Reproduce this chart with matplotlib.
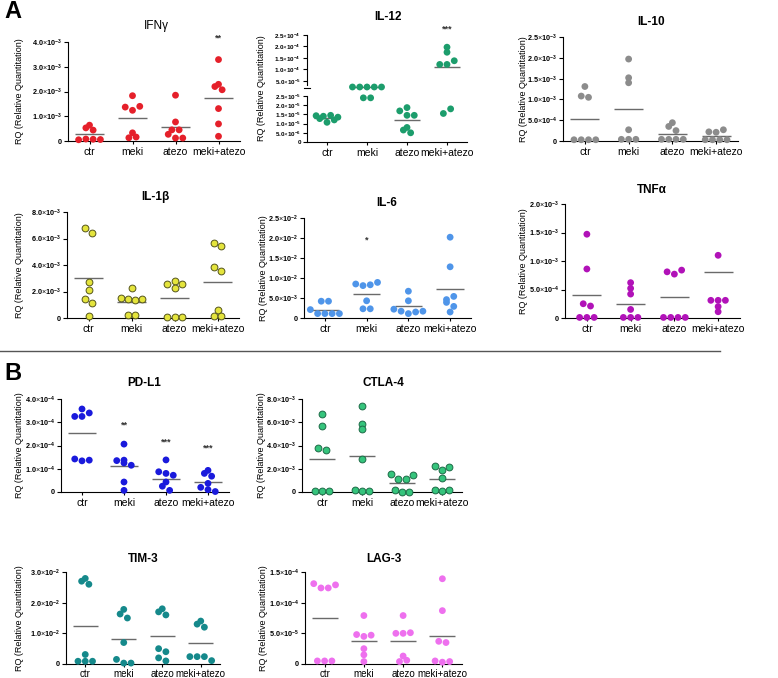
import numpy as np
import matplotlib
matplotlib.use("Agg")
import matplotlib.pyplot as plt
from matplotlib.transforms import blended_transform_factory

plt.rcParams['font.family'] = ['Liberation Sans', 'DejaVu Sans']
plt.rcParams['mathtext.fontset'] = 'custom'
plt.rcParams['mathtext.rm'] = 'Liberation Sans'
plt.rcParams['mathtext.bf'] = 'Liberation Sans:bold'

categories = ["ctr", "meki", "atezo", "meki+atezo"]

# ---- data ----
ifng = [[0.05e-3, 0.08e-3, 0.53e-3, 0.44e-3, 0.64e-3, 0.07e-3, 0.06e-3],
        [1.83e-3, 1.37e-3, 1.24e-3, 1.40e-3, 0.33e-3, 0.13e-3, 0.16e-3],
        [1.85e-3, 0.77e-3, 0.45e-3, 0.45e-3, 0.27e-3, 0.12e-3, 0.12e-3],
        [3.29e-3, 2.20e-3, 2.07e-3, 2.29e-3, 1.31e-3, 0.69e-3, 0.19e-3]]
ifng_mean = [0.27e-3, 0.92e-3, 0.57e-3, 1.72e-3]

il12 = [[1.27e-5, 1.43e-5, 1.40e-5, 1.07e-5, 1.20e-5, 1.45e-5, 1.35e-5],
        [4.0e-5, 4.0e-5, 4.0e-5, 4.0e-5, 4.0e-5, 2.4e-5, 2.4e-5],
        [1.87e-5, 1.69e-5, 1.45e-5, 1.45e-5, 0.79e-5, 0.65e-5, 0.50e-5],
        [1.97e-4, 1.75e-4, 1.22e-4, 1.22e-4, 1.38e-4, 1.55e-5, 1.80e-5]]
il12_mean = [1.30e-5, 4.0e-5, 1.20e-5, 1.12e-4]

il10 = [[1.31e-3, 1.08e-3, 1.05e-3, 0.03e-3, 0.03e-3, 0.03e-3, 0.03e-3],
        [1.97e-3, 1.52e-3, 1.40e-3, 0.27e-3, 0.04e-3, 0.04e-3, 0.04e-3],
        [0.44e-3, 0.35e-3, 0.25e-3, 0.04e-3, 0.04e-3, 0.04e-3, 0.04e-3],
        [0.22e-3, 0.21e-3, 0.27e-3, 0.03e-3, 0.03e-3, 0.03e-3, 0.03e-3]]
il10_mean = [0.52e-3, 0.77e-3, 0.18e-3, 0.11e-3]

il1b = [[6.80e-3, 6.45e-3, 2.75e-3, 2.08e-3, 1.43e-3, 1.13e-3, 0.13e-3],
        [2.30e-3, 1.48e-3, 1.43e-3, 1.38e-3, 1.43e-3, 0.25e-3, 0.25e-3],
        [2.83e-3, 2.55e-3, 2.25e-3, 2.55e-3, 0.08e-3, 0.08e-3, 0.08e-3],
        [5.63e-3, 5.43e-3, 3.83e-3, 3.55e-3, 0.58e-3, 0.18e-3, 0.18e-3]]
il1b_mean = [3.0e-3, 1.2e-3, 1.5e-3, 2.75e-3]

il6 = [[0.21e-2, 0.42e-2, 0.42e-2, 0.11e-2, 0.11e-2, 0.11e-2, 0.11e-2],
       [0.85e-2, 0.81e-2, 0.83e-2, 0.89e-2, 0.43e-2, 0.23e-2, 0.23e-2],
       [0.67e-2, 0.43e-2, 0.22e-2, 0.17e-2, 0.11e-2, 0.15e-2, 0.17e-2],
       [2.02e-2, 1.28e-2, 0.46e-2, 0.54e-2, 0.39e-2, 0.29e-2, 0.15e-2]]
il6_mean = [0.21e-2, 0.61e-2, 0.29e-2, 0.73e-2]

tnfa = [[1.47e-3, 0.86e-3, 0.25e-3, 0.21e-3, 0.01e-3, 0.01e-3, 0.01e-3],
        [0.62e-3, 0.52e-3, 0.42e-3, 0.15e-3, 0.01e-3, 0.01e-3, 0.01e-3],
        [0.81e-3, 0.77e-3, 0.84e-3, 0.01e-3, 0.01e-3, 0.01e-3, 0.01e-3],
        [1.10e-3, 0.31e-3, 0.31e-3, 0.31e-3, 0.20e-3, 0.11e-3]]
tnfa_mean = [0.41e-3, 0.25e-3, 0.36e-3, 0.80e-3]

pdl1 = [[3.57e-4, 3.25e-4, 3.25e-4, 3.40e-4, 1.42e-4, 1.34e-4, 1.37e-4],
        [2.06e-4, 1.37e-4, 1.35e-4, 1.25e-4, 1.15e-4, 0.43e-4, 0.07e-4],
        [1.38e-4, 0.87e-4, 0.80e-4, 0.72e-4, 0.43e-4, 0.25e-4, 0.07e-4],
        [0.93e-4, 0.80e-4, 0.68e-4, 0.37e-4, 0.20e-4, 0.10e-4, 0.02e-4]]
pdl1_mean = [2.52e-4, 1.11e-4, 0.58e-4, 0.42e-4]

ctla4 = [[6.7e-3, 5.7e-3, 3.75e-3, 3.65e-3, 0.05e-3, 0.05e-3, 0.05e-3],
         [7.4e-3, 5.85e-3, 5.4e-3, 2.8e-3, 0.14e-3, 0.05e-3, 0.05e-3],
         [1.52e-3, 1.15e-3, 1.15e-3, 1.50e-3, 0.14e-3, 0.0, 0.0],
         [2.20e-3, 1.92e-3, 2.15e-3, 1.17e-3, 0.14e-3, 0.06e-3, 0.14e-3]]
ctla4_mean = [2.85e-3, 3.1e-3, 0.77e-3, 1.14e-3]

tim3 = [[2.79e-2, 2.70e-2, 2.60e-2, 0.31e-2, 0.09e-2, 0.09e-2, 0.09e-2],
        [1.78e-2, 1.63e-2, 1.50e-2, 0.70e-2, 0.15e-2, 0.03e-2, 0.03e-2],
        [1.80e-2, 1.70e-2, 1.60e-2, 0.50e-2, 0.40e-2, 0.20e-2, 0.10e-2],
        [1.40e-2, 1.30e-2, 1.20e-2, 0.24e-2, 0.24e-2, 0.24e-2, 0.11e-2]]
tim3_mean = [1.24e-2, 0.82e-2, 0.92e-2, 0.67e-2]

lag3 = [[1.31e-4, 1.24e-4, 1.24e-4, 1.29e-4, 0.05e-4, 0.05e-4, 0.05e-4],
        [0.79e-4, 0.48e-4, 0.45e-4, 0.47e-4, 0.25e-4, 0.15e-4, 0.04e-4],
        [0.79e-4, 0.50e-4, 0.50e-4, 0.51e-4, 0.13e-4, 0.04e-4, 0.06e-4],
        [1.39e-4, 0.87e-4, 0.37e-4, 0.35e-4, 0.05e-4, 0.03e-4, 0.04e-4]]
lag3_mean = [0.75e-4, 0.38e-4, 0.37e-4, 0.45e-4]

# significance stars: (category index, level, text)
ifng_stars = [(3, 4.15e-3, "**")]
il12_stars = [(3, 2.75e-4, "***")]
il6_stars = [(1, 1.95e-2, "*")]
pdl1_stars = [(1, 2.88e-4, "**"), (2, 2.15e-4, "***"), (3, 1.90e-4, "***")]

W, H = 778, 678
fig = plt.figure(figsize=(W / 100, H / 100), dpi=100)


def rect(x0, x1, ytop, ybot):
    return [x0 / W, 1 - ybot / H, (x1 - x0) / W, (ybot - ytop) / H]


def fmt(v):
    if v == 0:
        return "0"
    e = int(np.floor(np.log10(abs(v)) + 1e-9))
    m = v / 10 ** e
    return r"%.1f$\times$10$^{\mathbf{%d}}$" % (m, e)


def swarm(ax, xc, vals, diam_px):
    vals = np.asarray(vals, float)
    p0 = ax.transData.transform((0, 0))
    p1 = ax.transData.transform((1, 0))
    ppu = p1[0] - p0[0]
    ys = ax.transData.transform(np.column_stack([np.full(len(vals), xc), vals]))[:, 1]
    order = np.argsort(ys)
    xs = np.zeros(len(vals))
    rows = []
    cur = []
    for i in order:
        if cur and ys[i] - ys[cur[0]] > 0.75 * diam_px:
            rows.append(cur)
            cur = []
        cur.append(i)
    if cur:
        rows.append(cur)
    for r in rows:
        n = len(r)
        r_sorted = sorted(r)
        for k, i in enumerate(r_sorted):
            xs[i] = xc + (k - (n - 1) / 2) * diam_px * 1.1 / ppu
    return xs


def panel(rc, data, means, ylim, ticks, color, edge=None, title="", tpos=None,
          tweight="bold", stars=(), ylabel_x=None, scale=None, tick_fs=5.2,
          xpad=2.0, xfs=7.5):
    ax = fig.add_axes(rc)
    ax.set_xlim(-0.5, 3.5)
    if scale is not None:
        ax.set_yscale('function', functions=scale)
    ax.set_ylim(*ylim)
    ax.set_yticks(ticks)
    ax.set_yticklabels([fmt(t) for t in ticks], fontsize=tick_fs, fontweight='bold')
    ax.set_xticks(range(4))
    ax.set_xticklabels(categories, fontsize=xfs)
    ax.tick_params(axis='y', length=3, width=0.8, pad=1.5)
    ax.tick_params(axis='x', length=2.5, width=0.8, pad=xpad)
    for s in ['top', 'right']:
        ax.spines[s].set_visible(False)
    for s in ['left', 'bottom']:
        ax.spines[s].set_linewidth(0.8)
    ax.patch.set_alpha(0)
    for i, vals in enumerate(data):
        xs = swarm(ax, i, vals, 6.6)
        ax.scatter(xs, vals, s=24, color=color, edgecolors=edge if edge else 'none',
                   linewidths=0.7 if edge else 0, zorder=3, clip_on=False)
        ax.plot([i - 0.33, i + 0.33], [means[i], means[i]], color='#6a6a6a', lw=1.0,
                zorder=2, solid_capstyle='butt')
    for (i, lev, txt) in stars:
        ax.text(i, lev, txt, ha='center', va='center', fontsize=6.5, fontweight='bold',
                color='#333333', clip_on=False)
    bb = ax.get_position()
    if ylabel_x is not None:
        fig.text(ylabel_x / W, bb.y0 + bb.height / 2, "RQ (Relative Quantitation)",
                 rotation=90, ha='center', va='center', fontsize=6.5)
    if tpos is not None:
        fig.text(tpos[0] / W, 1 - tpos[1] / H, title, ha='center', va='center',
                 fontsize=8.5, fontweight=tweight)
    return ax


# ---- Panel A row 1 ----
panel(rect(68, 240, 42, 141), ifng, ifng_mean, (0, 4e-3), [0, 1e-3, 2e-3, 3e-3, 4e-3],
      '#e5202a', title="IFNγ", tpos=(156, 26), tweight='normal', stars=ifng_stars, ylabel_x=20)

# IL-12 with broken axis (piecewise-linear scale)
xp = np.array([-2.5e-5, 0, 2.5e-5, 5e-5, 2.5e-4, 4.5e-4])
fp = np.array([-46, 0, 46, 61, 107, 153], float)
il12_scale = (lambda v: np.interp(v, xp, fp), lambda p: np.interp(p, fp, xp))
ax12 = panel(rect(307, 467, 35, 142), il12, il12_mean, (0, 2.5e-4),
             [0, 5e-6, 1e-5, 1.5e-5, 2e-5, 2.5e-5, 5e-5, 1e-4, 1.5e-4, 2e-4, 2.5e-4],
             '#1c9d6c', title="IL-12", tpos=(388, 17), stars=il12_stars, ylabel_x=262,
             scale=il12_scale, tick_fs=4.5)
ax12.spines['left'].set_visible(False)
tr = blended_transform_factory(ax12.transAxes, ax12.transData)
ax12.plot([0, 0], [0, 2.5e-5], color='black', lw=0.8, transform=tr, clip_on=False)
ax12.plot([0, 0], [4.4e-5, 2.5e-4], color='black', lw=0.8, transform=tr, clip_on=False)
ax12.plot([-0.02, 0.02], [3.85e-5, 3.85e-5], color='black', lw=0.8, transform=tr, clip_on=False)

panel(rect(563, 738, 37, 141), il10, il10_mean, (0, 2.5e-3),
      [0, 5e-4, 1e-3, 1.5e-3, 2e-3, 2.5e-3], '#8c8c8c', title="IL-10", tpos=(651, 22),
      ylabel_x=523)

# ---- Panel A row 2 ----
panel(rect(67, 239, 212, 318), il1b, il1b_mean, (0, 8e-3), [0, 2e-3, 4e-3, 6e-3, 8e-3],
      '#e4e43c', edge='#55551c', title="IL-1β", tpos=(155, 197), ylabel_x=20)
panel(rect(304, 471, 218, 318), il6, il6_mean, (0, 2.5e-2),
      [0, 5e-3, 1e-2, 1.5e-2, 2e-2, 2.5e-2], '#4f95e9', title="IL-6", tpos=(387, 203),
      stars=il6_stars, ylabel_x=263)
panel(rect(565, 740, 204, 318), tnfa, tnfa_mean, (0, 2e-3),
      [0, 5e-4, 1e-3, 1.5e-3, 2e-3], '#b112b8', title="TNFα", tpos=(652, 190), ylabel_x=523)

# separator + panel letters
fig.add_artist(plt.Line2D([0, 0.925], [1 - 351 / H, 1 - 351 / H], color='#555555', lw=1.0))
fig.text(4 / W, 1 - 12 / H, "A", fontsize=17, fontweight='bold', ha='left', va='center')
fig.text(4 / W, 1 - 374 / H, "B", fontsize=17, fontweight='bold', ha='left', va='center')

# ---- Panel B ----
panel(rect(61, 229, 399, 492), pdl1, pdl1_mean, (0, 4e-4), [0, 1e-4, 2e-4, 3e-4, 4e-4],
      '#1a1adc', title="PD-L1", tpos=(144, 383), stars=pdl1_stars, ylabel_x=20)
panel(rect(302, 462, 399, 492), ctla4, ctla4_mean, (0, 8e-3), [0, 2e-3, 4e-3, 6e-3, 8e-3],
      '#35c47c', edge='#1d6b47', title="CTLA-4", tpos=(383, 383), ylabel_x=262)
panel(rect(66, 220, 572, 664), tim3, tim3_mean, (0, 3e-2), [0, 1e-2, 2e-2, 3e-2],
      '#15898b', title="TIM-3", tpos=(143, 559), ylabel_x=20, xpad=1.0, xfs=7.0)
panel(rect(305, 462, 572, 664), lag3, lag3_mean, (0, 1.5e-4), [0, 5e-5, 1e-4, 1.5e-4],
      '#ee70ee', title="LAG-3", tpos=(384, 559), ylabel_x=263, xpad=1.0, xfs=7.0)

fig.savefig("out.png", dpi=100)
